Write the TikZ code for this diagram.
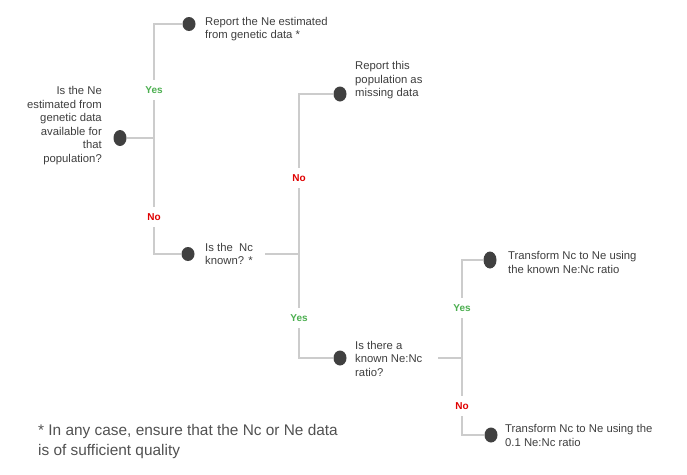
\documentclass[tikz,border=0pt]{standalone}
\usepackage{fontspec}
\setmainfont{Liberation Sans}
\usetikzlibrary{shapes.geometric}
\definecolor{txt}{HTML}{3E3E3E}
\definecolor{dotc}{HTML}{404040}
\definecolor{linec}{HTML}{CCCCCC}
\definecolor{yesc}{HTML}{4CAF50}
\definecolor{noc}{HTML}{E00000}
\tikzset{
  dotn/.style={ellipse, fill=dotc, inner sep=0pt, minimum width=13pt, minimum height=16pt},
  lbl/.style={text=txt, inner sep=0pt, font=\fontsize{11.3}{13.5}\selectfont},
  conn/.style={draw=linec, line width=1.3pt},
  yesl/.style={fill=white, text=yesc, font=\bfseries\fontsize{10}{12}\selectfont, inner xsep=2pt, inner ysep=7pt},
  nol/.style={fill=white, text=noc, font=\bfseries\fontsize{10}{12}\selectfont, inner xsep=2pt, inner ysep=7pt},
}
\begin{document}
\begin{tikzpicture}[x=1pt,y=-1pt]
\useasboundingbox (0,0) rectangle (687,474);
% dots
\node[dotn] (d1) at (120,138) {};
\node[dotn, minimum height=14pt] (d2) at (189,24) {};
\node[dotn, minimum height=14pt] (d3) at (188,254) {};
\node[dotn, minimum height=15pt] (d4) at (340,94) {};
\node[dotn, minimum height=15pt] (d5) at (340,358) {};
\node[dotn, minimum height=17pt] (d6) at (490,260) {};
\node[dotn, minimum height=15pt] (d7) at (491,435) {};
% texts
\node[lbl, align=right, anchor=east] (t1) at (102,125.5) {Is the Ne\\estimated from\\genetic data\\available for\\that\\population?};
\node[lbl, align=left, anchor=west] (t2) at (205,29) {Report the Ne estimated\\from genetic data *};
\node[lbl, align=left, anchor=west] (t3) at (205,254) {Is the\ \ Nc\\known? *};
\node[lbl, align=left, anchor=west] (t4) at (355,80.5) {Report this\\population as\\missing data};
\node[lbl, align=left, anchor=west] (t5) at (355,358.5) {Is there a\\known Ne:Nc\\ratio?};
\node[lbl, align=left, anchor=west] (t6) at (508,262.5) {Transform Nc to Ne using\\the known Ne:Nc ratio};
\node[lbl, align=left, anchor=west] (t7) at (505,435.5) {Transform Nc to Ne using the\\0.1 Ne:Nc ratio};
\node[text=txt!90!white, inner sep=0pt, align=left, anchor=north west, font=\fontsize{15.4}{20}\selectfont] (foot) at (38,424) {* In any case, ensure that the Nc or Ne data\\is of sufficient quality};
% junctions
\coordinate (j1) at (154,138);
\coordinate (s2) at (265,254);
\coordinate (j2) at (299,254);
\coordinate (s3) at (438,358);
\coordinate (j3) at (462,358);
% connectors
\draw[conn] (d1.east) -- (j1);
\draw[conn] (j1) |- (d2.west);
\draw[conn] (j1) |- (d3.west);
\draw[conn] (s2) -- (j2);
\draw[conn] (j2) |- (d4.west);
\draw[conn] (j2) |- (d5.west);
\draw[conn] (s3) -- (j3);
\draw[conn] (j3) |- (d6.west);
\draw[conn] (j3) |- (d7.west);
% labels
\node[yesl] (y1) at (154,90) {Yes};
\node[nol] (n1) at (154,217) {No};
\node[nol] (n2) at (299,178) {No};
\node[yesl] (y2) at (299,318) {Yes};
\node[yesl] (y3) at (462,308) {Yes};
\node[nol] (n3) at (462,406) {No};
\end{tikzpicture}
\end{document}
